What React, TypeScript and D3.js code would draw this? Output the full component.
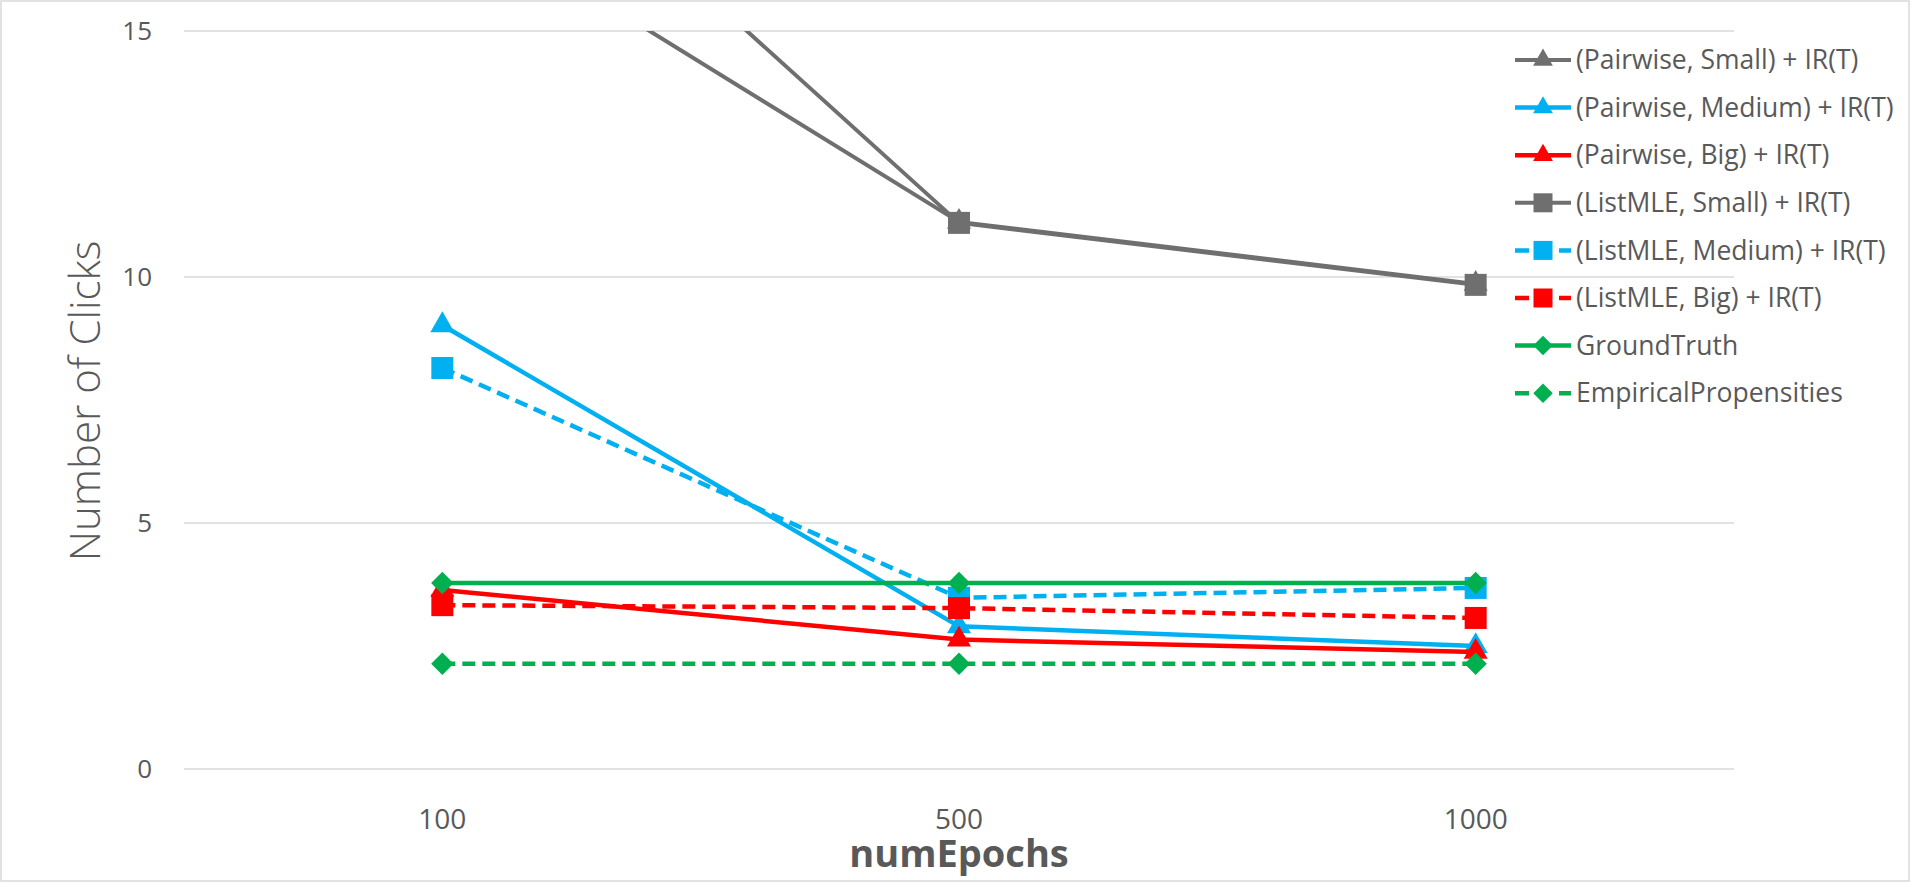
import React, { useEffect, useRef } from 'react';
import * as d3 from 'd3';

const epochs = ['100', '500', '1000'];
const yTicks = [0, 5, 10, 15];

const pairwiseSmall = [17.6, 11.12, 9.86];
const pairwiseMedium = [9.02, 2.9, 2.5];
const pairwiseBig = [3.64, 2.63, 2.38];
const listmleSmall = [20.6, 11.1, 9.84];
const listmleMedium = [8.15, 3.48, 3.68];
const listmleBig = [3.33, 3.27, 3.07];
const groundTruth = [3.78, 3.78, 3.78];
const empiricalPropensities = [2.14, 2.14, 2.14];

const seriesNames = [
  '(Pairwise, Small) + IR(T)',
  '(Pairwise, Medium) + IR(T)',
  '(Pairwise, Big) + IR(T)',
  '(ListMLE, Small) + IR(T)',
  '(ListMLE, Medium) + IR(T)',
  '(ListMLE, Big) + IR(T)',
  'GroundTruth',
  'EmpiricalPropensities',
];

const W = 1911;
const H = 883;
const FONT = '"Open Sans", "Noto Sans", sans-serif';

const App = () => {
  const ref = useRef<SVGSVGElement>(null);

  useEffect(() => {
    const svg = d3.select(ref.current);
    svg.selectAll('*').remove();

    const x = d3.scalePoint().domain(epochs).range([184, 1734]).padding(0.5);
    const y = d3.scaleLinear().domain([0, 15]).range([769, 31]);

    const gray = '#6f6f6f';
    const cyan = '#00b0f0';
    const red = '#ff0000';
    const green = '#00b050';

    const series = [
      { name: seriesNames[0], values: pairwiseSmall, color: gray, dash: null, marker: 'triangle', width: 4 },
      { name: seriesNames[1], values: pairwiseMedium, color: cyan, dash: null, marker: 'triangle', width: 4.5 },
      { name: seriesNames[2], values: pairwiseBig, color: red, dash: null, marker: 'triangle', width: 4.5 },
      { name: seriesNames[3], values: listmleSmall, color: gray, dash: null, marker: 'square', width: 4 },
      { name: seriesNames[4], values: listmleMedium, color: cyan, dash: '13 7', marker: 'square', width: 4.5 },
      { name: seriesNames[5], values: listmleBig, color: red, dash: '13 7', marker: 'square', width: 4.5 },
      { name: seriesNames[6], values: groundTruth, color: green, dash: null, marker: 'diamond', width: 4.5 },
      { name: seriesNames[7], values: empiricalPropensities, color: green, dash: '13 7', marker: 'diamond', width: 4.5 },
    ];

    // chart border
    svg.append('rect')
      .attr('x', 1).attr('y', 1)
      .attr('width', W - 3).attr('height', H - 3)
      .attr('fill', '#fff')
      .attr('stroke', '#d9d9d9')
      .attr('stroke-width', 1.5);

    // gridlines
    svg.append('g')
      .selectAll('line')
      .data(yTicks)
      .join('line')
      .attr('x1', 184).attr('x2', 1734)
      .attr('y1', d => y(d)).attr('y2', d => y(d))
      .attr('stroke', '#d9d9d9')
      .attr('stroke-width', 1.5);

    // y tick labels
    svg.append('g')
      .selectAll('text')
      .data(yTicks)
      .join('text')
      .attr('x', 152)
      .attr('y', d => y(d))
      .attr('dy', '0.35em')
      .attr('text-anchor', 'end')
      .attr('font-family', FONT)
      .attr('font-size', 26)
      .attr('fill', '#595959')
      .text(d => d);

    // x tick labels
    svg.append('g')
      .selectAll('text')
      .data(epochs)
      .join('text')
      .attr('x', d => x(d))
      .attr('y', 829)
      .attr('text-anchor', 'middle')
      .attr('font-family', FONT)
      .attr('font-size', 28)
      .attr('fill', '#595959')
      .text(d => d);

    // axis titles
    svg.append('text')
      .attr('x', 959).attr('y', 867)
      .attr('text-anchor', 'middle')
      .attr('font-family', FONT)
      .attr('font-size', 38)
      .attr('font-weight', 'bold')
      .attr('fill', '#595959')
      .text('numEpochs');

    svg.append('text')
      .attr('transform', 'translate(100,401) rotate(-90)')
      .attr('text-anchor', 'middle')
      .attr('font-family', FONT)
      .attr('font-size', 42)
      .attr('font-weight', 350)
      .attr('fill', '#595959')
      .text('Number of Clicks');

    svg.append('clipPath').attr('id', 'plot-clip')
      .append('rect')
      .attr('x', 184).attr('y', 31)
      .attr('width', 1550).attr('height', 760);

    const symbolFor = (m: string, big: boolean) => {
      if (m === 'triangle') return d3.symbol(d3.symbolTriangle, big ? 250 : 170)();
      if (m === 'square') return d3.symbol(d3.symbolSquare, big ? 484 : 361)();
      return d3.symbol(d3.symbolSquare, big ? 250 : 190)();
    };

    const line = d3.line<number>()
      .x((_, i) => x(epochs[i]) as number)
      .y(d => y(d));

    const plot = svg.append('g').attr('clip-path', 'url(#plot-clip)');

    series.forEach(s => {
      const g = plot.append('g');
      g.append('path')
        .attr('d', line(s.values))
        .attr('fill', 'none')
        .attr('stroke', s.color)
        .attr('stroke-width', s.width)
        .attr('stroke-linejoin', 'round')
        .attr('stroke-dasharray', s.dash);
      g.selectAll('path.mk')
        .data(s.values)
        .join('path')
        .attr('class', 'mk')
        .attr('d', symbolFor(s.marker, true))
        .attr('transform', (d, i) => `translate(${x(epochs[i])},${y(d)})${s.marker === 'diamond' ? ' rotate(45)' : ''}`)
        .attr('fill', s.color);
    });

    // legend
    const legend = svg.append('g');
    const rows = legend.selectAll('g')
      .data(series)
      .join('g')
      .attr('transform', (_, i) => `translate(1515,${60 + i * 47.6})`);
    rows.append('line')
      .attr('x1', 0).attr('x2', 56)
      .attr('stroke', d => d.color)
      .attr('stroke-width', d => d.width)
      .attr('stroke-dasharray', d => (d.dash ? '14 8' : null));
    rows.append('path')
      .attr('d', d => symbolFor(d.marker, false))
      .attr('transform', d => `translate(28,0)${d.marker === 'diamond' ? ' rotate(45)' : ''}`)
      .attr('fill', d => d.color);
    rows.append('text')
      .attr('x', 61)
      .attr('dy', '0.35em')
      .attr('font-family', FONT)
      .attr('font-size', 26.5)
      .attr('fill', '#595959')
      .text(d => d.name);
  }, []);

  return (
    <div style={{ position: 'absolute', left: 0, top: 0 }}>
      <svg ref={ref} width={W} height={H}></svg>
    </div>
  );
};

export default App;
